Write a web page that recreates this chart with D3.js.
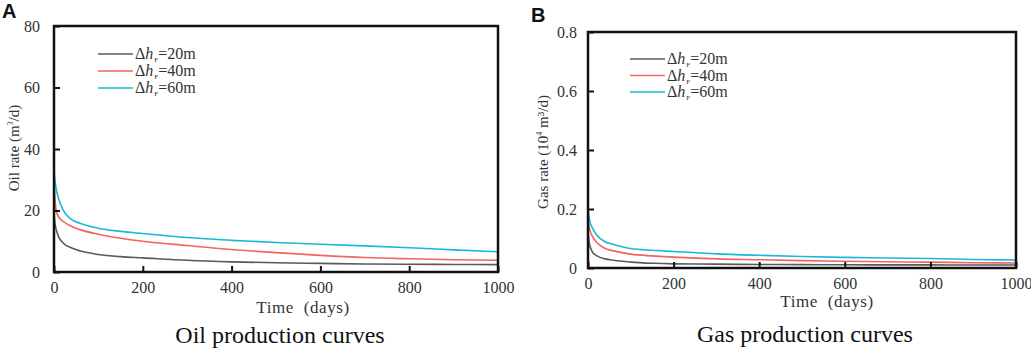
<!DOCTYPE html>
<html>
<head>
<meta charset="utf-8">
<script src="https://cdn.jsdelivr.net/npm/d3@7"></script>
<style>
  body { margin: 0; background: #fff; }
  svg { display: block; }
</style>
</head>
<body>
<div class="canvas"></div>
<script>
// time axis (days)
const days = [0, 2, 5, 10, 20, 40, 60, 100, 150, 200, 300, 400, 500, 600, 700, 800, 900, 1000];

// oil rate (m3/d)
const oil20 = [19, 16, 13.8, 11.6, 9.5, 7.8, 6.8, 5.7, 5.0, 4.6, 3.8, 3.3, 3.0, 2.8, 2.6, 2.5, 2.45, 2.4];
const oil40 = [30, 24, 20, 18, 16.5, 14.8, 13.7, 12.3, 11, 10, 8.6, 7.3, 6.3, 5.4, 4.7, 4.3, 4.0, 3.8];
const oil60 = [33, 30, 27, 24, 20.3, 17, 15.8, 14.2, 13.2, 12.5, 11.2, 10.3, 9.6, 9.0, 8.5, 7.9, 7.2, 6.6];

// gas rate (10^4 m3/d)
const gas20 = [0.125, 0.095, 0.073, 0.055, 0.042, 0.031, 0.026, 0.02, 0.016, 0.014, 0.013, 0.012, 0.0115, 0.011, 0.0105, 0.0105, 0.01, 0.01];
const gas40 = [0.172, 0.145, 0.125, 0.108, 0.087, 0.066, 0.058, 0.047, 0.041, 0.037, 0.031, 0.028, 0.025, 0.023, 0.021, 0.02, 0.018, 0.017];
const gas60 = [0.2, 0.175, 0.154, 0.137, 0.113, 0.089, 0.08, 0.066, 0.06, 0.056, 0.048, 0.043, 0.039, 0.036, 0.034, 0.032, 0.029, 0.027];

const seriesNames = ['20', '40', '60'];
const seriesColors = ['#5a5a5a', '#f2645c', '#19b9d9'];

const xTicks = [0, 200, 400, 600, 800, 1000];
const oilTicks = [0, 20, 40, 60, 80];
const gasTicks = [0, 0.2, 0.4, 0.6, 0.8];

const serif = '"Liberation Serif", "Times New Roman", serif';

const svg = d3.select('.canvas')
  .append('svg')
  .attr('width', 1031)
  .attr('height', 349);

// draws one panel
const drawPanel = (p) => {
  const x = d3.scaleLinear().domain([0, 1000]).range([p.left, p.right]);
  const y = d3.scaleLinear().domain([0, p.yMax]).range([p.bottom, p.top]);

  const g = svg.append('g').style('font-family', serif);

  // lines
  const line = d3.line()
    .x((d, i) => x(days[i]))
    .y(d => y(d))
    .curve(d3.curveMonotoneX);

  p.series.forEach((s, i) => {
    g.append('path')
      .attr('d', line(s))
      .attr('fill', 'none')
      .attr('stroke', seriesColors[i])
      .attr('stroke-width', 1.6);
  });

  // y axis
  const yAxis = g.append('g')
    .attr('transform', `translate(${p.left},0)`)
    .call(d3.axisLeft(y).tickValues(p.yTicks).tickFormat(d3.format('~g'))
      .tickSizeInner(-6).tickSizeOuter(0).tickPadding(p.yPad));
  yAxis.select('.domain').remove();
  yAxis.selectAll('line').attr('stroke', '#111').attr('stroke-width', 2);
  yAxis.selectAll('text')
    .style('font-family', serif)
    .style('font-size', '16px')
    .attr('fill', '#333');

  // x axis
  const xAxis = g.append('g')
    .attr('transform', `translate(0,${p.bottom})`)
    .call(d3.axisBottom(x).tickValues(xTicks).tickFormat(d3.format('d'))
      .tickSizeInner(-6).tickSizeOuter(0).tickPadding(p.xPad));
  xAxis.select('.domain').remove();
  xAxis.selectAll('line').attr('stroke', '#111').attr('stroke-width', 2);
  xAxis.selectAll('text')
    .style('font-family', serif)
    .style('font-size', '16px')
    .attr('fill', '#333');

  // frame
  g.append('rect')
    .attr('x', p.left).attr('y', p.top)
    .attr('width', p.right - p.left).attr('height', p.bottom - p.top)
    .attr('fill', 'none')
    .attr('stroke', '#111')
    .attr('stroke-width', 2.5);

  // legend
  seriesNames.forEach((n, i) => {
    const ly = p.legY + i * p.legGap;
    g.append('line')
      .attr('x1', p.legX).attr('x2', p.legX + 35)
      .attr('y1', ly).attr('y2', ly)
      .attr('stroke', seriesColors[i])
      .attr('stroke-width', 1.3);
    const t = g.append('text')
      .attr('x', p.legX + 37).attr('y', ly + 5)
      .attr('fill', '#333')
      .style('font-size', '16px');
    t.append('tspan').text('Δ');
    t.append('tspan').style('font-style', 'italic').text('h');
    t.append('tspan').style('font-size', '7px').attr('dx', 1).attr('dy', 3).text('F');
    t.append('tspan').attr('dy', -3).text('=' + n + 'm');
  });

  // x title
  g.append('text')
    .attr('x', p.xTitleX).attr('y', p.xTitleY)
    .attr('text-anchor', 'middle')
    .attr('fill', '#333')
    .style('font-size', '17px')
    .style('letter-spacing', '0.6px')
    .style('white-space', 'pre')
    .text('Time  (days)');

  // y title
  const yt = g.append('text')
    .attr('transform', `translate(${p.yTitleX},${p.yTitleY}) rotate(-90)`)
    .attr('text-anchor', 'middle')
    .attr('fill', '#333')
    .style('font-size', '15px');
  yt.append('tspan').text(p.yTitle[0]);
  yt.append('tspan').style('font-size', '8px').attr('dy', -6).text(p.yTitle[1]);
  yt.append('tspan').attr('dy', 6).text(p.yTitle[2]);

  // caption
  g.append('text')
    .attr('x', p.capX).attr('y', p.capY)
    .attr('text-anchor', 'middle')
    .attr('fill', '#111')
    .style('font-size', '24px')
    .text(p.caption);

  // panel letter
  g.append('text')
    .attr('x', p.letterX).attr('y', p.letterY)
    .attr('fill', '#111')
    .style('font-family', '"Liberation Sans", Arial, sans-serif')
    .style('font-weight', 'bold')
    .style('font-size', '20px')
    .text(p.letter);
};

drawPanel({
  left: 54, right: 498, top: 26, bottom: 272,
  yMax: 80, yTicks: oilTicks, yPad: 14, xPad: 10,
  series: [oil20, oil40, oil60],
  legX: 98, legY: 54, legGap: 17,
  xTitleX: 303, xTitleY: 313,
  yTitleX: 19, yTitleY: 148, yTitle: ['Oil rate (m', '3', '/d)'],
  capX: 280, capY: 343, caption: 'Oil production curves',
  letterX: 2, letterY: 18, letter: 'A'
});

drawPanel({
  left: 588, right: 1016, top: 32, bottom: 268,
  yMax: 0.8, yTicks: gasTicks, yPad: 11, xPad: 10,
  series: [gas20, gas40, gas60],
  legX: 630, legY: 59, legGap: 16.5,
  xTitleX: 827, xTitleY: 307,
  yTitleX: 548, yTitleY: 152, yTitle: ['Gas rate (10', '4', ' m³/d)'],
  capX: 805, capY: 342, caption: 'Gas production curves',
  letterX: 531, letterY: 22, letter: 'B'
});
</script>
</body>
</html>
